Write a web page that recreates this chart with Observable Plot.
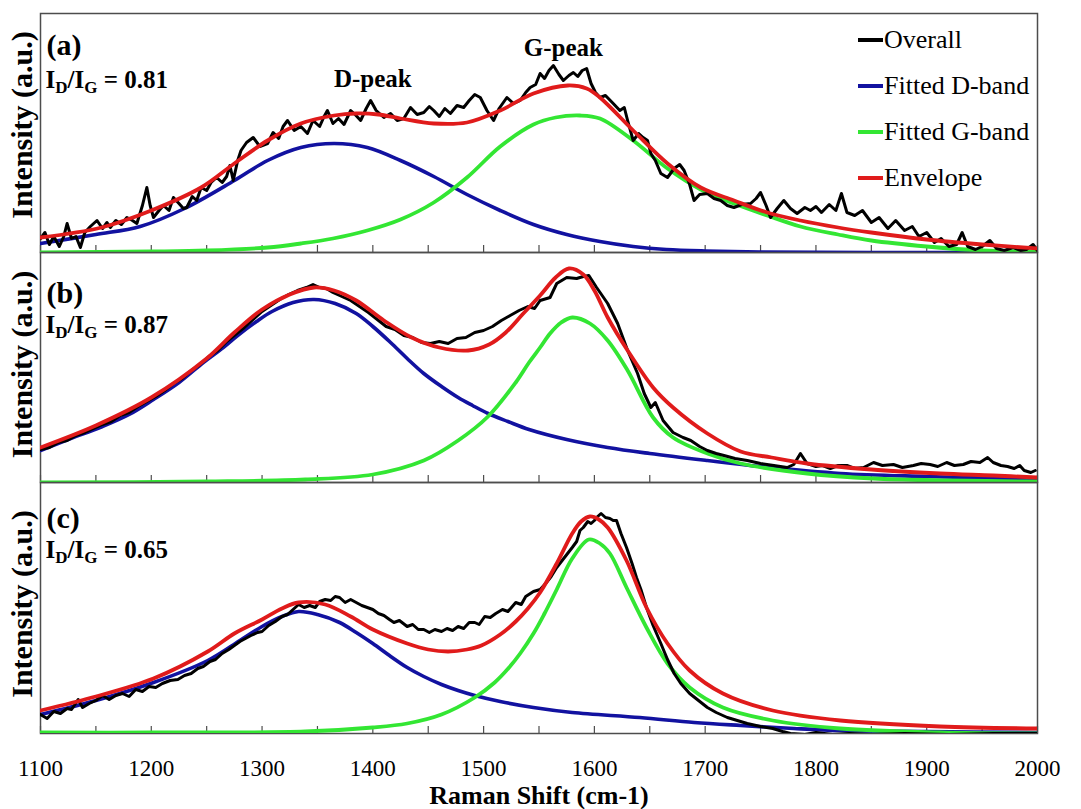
<!DOCTYPE html>
<html>
<head>
<meta charset="utf-8">
<script src="https://cdn.jsdelivr.net/npm/d3@7"></script>
<script src="https://cdn.jsdelivr.net/npm/@observablehq/plot@0.6"></script>
<style>
  body { margin: 0; background: #fff; }
  #chart { position: relative; width: 1081px; height: 809px; font-family: "Liberation Serif", "Times New Roman", serif; }
  #chart svg { display: block; overflow: visible; }
  .legend { position: absolute; left: 858px; top: 17px; }
  .legend .row { display: flex; align-items: center; height: 46px; font-size: 26px; color: #000; }
  .legend .swatch { width: 25px; height: 4px; margin-right: 1px; }
</style>
</head>
<body>
<div id="chart"></div>
<script>
// Raman spectra (1100–2000 cm-1) of three samples with two-band fits.
// Each series is a list of [Raman shift (cm-1), intensity (a.u.)] pairs.

const shiftTicks = [1100, 1150, 1200, 1250, 1300, 1350, 1400, 1450, 1500, 1550, 1600, 1650, 1700, 1750, 1800, 1850, 1900, 1950, 2000];
const shiftLabels = [1100, 1200, 1300, 1400, 1500, 1600, 1700, 1800, 1900, 2000];
const panelTags = ["(a)", "(b)", "(c)"];
const ratios = ["0.81", "0.87", "0.65"];
const seriesNames = ["Overall", "Fitted D-band", "Fitted G-band", "Envelope"];
const peakLabels = [
  {label: "D-peak", shift: 1400, intensity: 174},
  {label: "G-peak", shift: 1572, intensity: 205}
];

// ---- sample (a) ----
const overallA = [[1100,14],[1104,20],[1108,8],[1112,16],[1117,6],[1121,16],[1124,29],[1128,14],[1132,16],[1136,5],[1140,20],[1145,26],[1151,32],[1156,24],[1160,30],[1163,25],[1168,32],[1173,28],[1178,35],[1183,32],[1187,29],[1192,47],[1196,65],[1199,47],[1202,35],[1207,42],[1211,47],[1216,42],[1220,55],[1225,49],[1229,44],[1232,45],[1237,56],[1241,52],[1245,65],[1250,62],[1254,70],[1259,75],[1264,70],[1268,76],[1271,87],[1274,72],[1278,92],[1281,102],[1286,110],[1292,115],[1298,106],[1305,109],[1310,120],[1315,114],[1319,126],[1323,132],[1329,122],[1335,126],[1341,119],[1346,132],[1352,126],[1356,136],[1359,142],[1364,129],[1369,134],[1374,128],[1380,142],[1384,138],[1389,132],[1394,144],[1398,152],[1403,142],[1410,135],[1416,139],[1422,132],[1428,134],[1434,145],[1440,138],[1446,140],[1451,146],[1455,142],[1460,136],[1465,144],[1470,139],[1476,147],[1482,145],[1487,152],[1492,158],[1497,155],[1503,142],[1509,132],[1514,144],[1521,155],[1527,149],[1533,152],[1538,160],[1542,165],[1547,168],[1551,179],[1555,174],[1559,182],[1563,187],[1568,178],[1572,172],[1577,177],[1581,180],[1585,176],[1589,182],[1593,184],[1597,169],[1601,160],[1605,155],[1610,157],[1617,149],[1623,142],[1627,145],[1630,132],[1635,112],[1640,119],[1644,115],[1648,112],[1651,99],[1655,92],[1660,79],[1666,75],[1672,84],[1677,88],[1681,82],[1686,68],[1690,52],[1695,58],[1702,59],[1708,54],[1714,52],[1720,47],[1726,45],[1733,48],[1741,49],[1746,54],[1750,60],[1755,47],[1759,35],[1765,44],[1771,52],[1777,44],[1783,39],[1790,45],[1795,42],[1800,46],[1805,40],[1812,48],[1818,42],[1823,59],[1828,40],[1835,37],[1842,42],[1850,30],[1857,35],[1865,24],[1872,32],[1880,22],[1887,26],[1893,16],[1900,20],[1907,10],[1913,14],[1920,6],[1927,8],[1932,20],[1937,6],[1944,3],[1950,6],[1957,12],[1963,4],[1970,2],[1978,5],[1985,2],[1990,3],[1996,8],[2000,2]];
const dBandA = [[1100,9],[1150,18],[1190,26],[1230,44],[1275,72],[1305,92],[1335,105],[1365,109],[1395,105],[1425,92],[1455,76],[1485,58],[1515,42],[1545,28],[1575,18],[1605,11],[1635,6],[1665,3],[1700,1.5],[1750,0.5],[1850,0],[2000,0]];
const gBandA = [[1100,0],[1200,1],[1250,2],[1305,5],[1335,9],[1364,14],[1395,22],[1425,33],[1455,50],[1485,75],[1515,106],[1545,128],[1565,135],[1587,137],[1605,134],[1635,112],[1666,84],[1696,63],[1726,49],[1756,37],[1786,26],[1820,18],[1850,12],[1900,6],[1950,2],[2000,1]];
const envelopeA = [[1100,15],[1155,25],[1200,42],[1245,65],[1275,89],[1305,112],[1335,129],[1365,137],[1385,139],[1405,138],[1425,134],[1455,129],[1485,130],[1515,142],[1545,159],[1576,167],[1593,164],[1605,155],[1635,122],[1666,89],[1696,65],[1726,52],[1756,40],[1786,32],[1820,25],[1850,20],[1900,13],[1950,8],[2000,4]];

// ---- sample (b) ----
const overallB = [[1100,33],[1108,35],[1116,40],[1124,42],[1132,47],[1140,50],[1148,54],[1156,58],[1164,61],[1172,67],[1180,70],[1188,76],[1196,81],[1204,86],[1212,92],[1220,99],[1228,104],[1236,112],[1244,118],[1252,126],[1260,132],[1268,141],[1276,148],[1284,155],[1292,163],[1300,171],[1308,177],[1316,183],[1324,188],[1332,192],[1340,195],[1346,198],[1352,195],[1358,194],[1364,190],[1372,186],[1380,182],[1388,176],[1396,170],[1404,163],[1412,156],[1420,153],[1428,147],[1436,145],[1444,140],[1452,139],[1460,141],[1468,139],[1476,144],[1484,145],[1492,150],[1500,152],[1508,156],[1516,162],[1524,167],[1532,172],[1540,176],[1546,174],[1551,182],[1560,185],[1566,199],[1575,205],[1584,204],[1590,206],[1595,207],[1602,195],[1612,179],[1621,159],[1630,132],[1639,109],[1645,89],[1651,75],[1655,80],[1662,62],[1671,50],[1680,45],[1687,42],[1695,36],[1702,32],[1710,29],[1717,27],[1727,24],[1738,22],[1750,19],[1762,17],[1774,15],[1780,18],[1786,29],[1792,19],[1800,16],[1806,17],[1813,14],[1820,17],[1828,17],[1835,14],[1843,15],[1852,20],[1860,17],[1870,18],[1878,15],[1888,17],[1895,19],[1903,18],[1910,16],[1918,20],[1925,17],[1933,18],[1940,21],[1948,20],[1955,25],[1960,20],[1967,17],[1973,16],[1979,14],[1984,17],[1988,12],[1994,10],[1998,12]];
const dBandB = [[1100,32],[1125,43],[1156,56],[1180,68],[1202,83],[1225,100],[1247,120],[1265,135],[1278,147],[1295,161],[1309,171],[1328,180],[1347,183],[1366,179],[1385,169],[1400,156],[1416,140],[1431,124],[1446,109],[1462,96],[1477,85],[1490,77],[1504,69],[1522,61],[1541,53],[1575,43],[1612,35],[1650,29],[1702,22],[1750,16],[1822,9],[1900,6],[1973,4],[2000,3]];
const gBandB = [[1100,0],[1250,1],[1339,3],[1400,8],[1446,22],[1477,42],[1504,66],[1529,100],[1541,120],[1551,135],[1560,149],[1570,160],[1580,165],[1596,159],[1612,142],[1630,112],[1653,65],[1671,45],[1702,29],[1732,19],[1792,9],[1852,4],[1920,2],[2000,1]];
const envelopeB = [[1100,35],[1150,57],[1200,85],[1250,124],[1275,150],[1300,173],[1325,188],[1347,195],[1365,192],[1385,182],[1410,162],[1435,145],[1460,135],[1486,132],[1505,138],[1520,150],[1535,168],[1551,187],[1565,205],[1577,214],[1590,208],[1600,192],[1612,165],[1630,132],[1653,95],[1671,75],[1702,49],[1732,31],[1760,25],[1792,19],[1850,13],[1912,9],[1960,7],[2000,5]];

// ---- sample (c) ----
const overallC = [[1100,19],[1106,15],[1112,22],[1118,20],[1124,25],[1128,24],[1134,34],[1138,26],[1144,30],[1150,33],[1156,38],[1162,34],[1168,38],[1174,40],[1180,37],[1186,44],[1192,42],[1198,47],[1204,46],[1210,50],[1217,53],[1224,54],[1230,58],[1236,60],[1242,65],[1247,67],[1253,72],[1258,74],[1264,80],[1270,84],[1275,88],[1280,92],[1285,95],[1290,98],[1296,101],[1300,102],[1306,108],[1312,112],[1318,117],[1323,119],[1328,124],[1333,129],[1338,126],[1343,128],[1348,126],[1352,132],[1357,134],[1362,133],[1366,137],[1370,136],[1375,131],[1380,134],[1385,131],[1390,128],[1395,126],[1400,124],[1405,120],[1410,118],[1415,114],[1419,111],[1424,113],[1431,107],[1436,109],[1441,104],[1446,104],[1451,101],[1456,104],[1462,102],[1467,105],[1472,103],[1477,107],[1482,105],[1487,111],[1492,111],[1496,109],[1501,117],[1506,116],[1511,120],[1517,124],[1522,122],[1529,131],[1534,129],[1538,137],[1545,142],[1551,144],[1556,150],[1561,157],[1566,166],[1573,176],[1580,186],[1584,192],[1587,203],[1590,206],[1594,212],[1597,210],[1600,213],[1603,217],[1606,220],[1610,216],[1614,215],[1617,213],[1620,213],[1624,200],[1629,186],[1634,170],[1638,156],[1642,144],[1647,126],[1653,108],[1660,90],[1666,74],[1672,60],[1678,50],[1686,40],[1694,33],[1702,26],[1710,21],[1720,16],[1729,13],[1738,10],[1750,7],[1761,5],[1770,2],[1777,0],[1790,-1],[1800,1],[1815,-1],[1830,0],[1850,-1],[1880,0],[1920,-1],[1960,0],[2000,0]];
const dBandC = [[1100,19],[1150,33],[1202,51],[1251,73],[1280,93],[1300,107],[1318,117],[1333,122],[1350,119],[1370,111],[1385,101],[1400,90],[1415,78],[1431,66],[1446,57],[1462,49],[1477,43],[1492,38],[1515,32],[1545,26],[1580,21],[1641,16],[1690,11],[1732,8],[1780,5],[1822,3],[1900,2],[2000,1]];
const gBandC = [[1100,1],[1200,1],[1339,2],[1400,6],[1431,10],[1462,19],[1492,36],[1510,51],[1523,66],[1533,80],[1545,100],[1555,120],[1566,144],[1580,175],[1595,194],[1605,190],[1614,180],[1629,146],[1647,106],[1666,70],[1686,46],[1716,26],[1761,13],[1822,5],[1912,1],[2000,0]];
const envelopeC = [[1100,23],[1150,37],[1202,55],[1251,82],[1275,100],[1300,114],[1318,125],[1333,131],[1357,129],[1380,117],[1400,104],[1431,90],[1450,84],[1468,82],[1485,84],[1498,88],[1515,99],[1529,112],[1540,125],[1551,141],[1566,170],[1580,200],[1588,212],[1596,217],[1604,214],[1612,206],[1629,173],[1647,126],[1666,90],[1686,63],[1716,40],[1761,23],[1822,13],[1912,7],[2000,5]];

// ---- drawing ----
const serif = "Liberation Serif";
const colors = {overall: "#000000", d: "#1212a0", g: "#33e633", env: "#e01b1b"};
const legendColors = [colors.overall, colors.d, colors.g, colors.env];

const panels = [
  {tag: panelTags[0], ratio: ratios[0], overall: overallA, d: dBandA, g: gBandA, env: envelopeA,
   top: 13, inner: 239, bottom: 0, tagDy: 32, ratioDy: 66, labelDy: -8, peaks: peakLabels},
  {tag: panelTags[1], ratio: ratios[1], overall: overallB, d: dBandB, g: gBandB, env: envelopeB,
   top: 0, inner: 230, bottom: 0, tagDy: 41, ratioDy: 72, labelDy: -3, peaks: []},
  {tag: panelTags[2], ratio: ratios[2], overall: overallC, d: dBandC, g: gBandC, env: envelopeC,
   top: 0, inner: 251, bottom: 76, tagDy: 36, ratioDy: 67, labelDy: -4, peaks: [], axis: true}
];

const px = d => d[0], py = d => d[1];
const chart = document.getElementById("chart");

// turn "ID/IG = x" into I with subscript D over I with subscript G
function subscriptRatio(svg) {
  const ns = "http://www.w3.org/2000/svg";
  svg.querySelectorAll("text").forEach(t => {
    const m = t.textContent.match(/^ID\/IG(.*)$/);
    if (!m) return;
    t.textContent = "";
    const parts = [["I", 0], ["D", 1], ["/I", -1], ["G", 1], [m[1], -1]];
    for (const [s, k] of parts) {
      const ts = document.createElementNS(ns, "tspan");
      ts.textContent = s;
      if (k === 1) { ts.setAttribute("font-size", "68%"); ts.setAttribute("dy", "5"); }
      if (k === -1) { ts.setAttribute("dy", "-5"); }
      t.appendChild(ts);
    }
  });
}

for (const p of panels) {
  const marks = [
    Plot.frame({stroke: "#4d4d4d", strokeWidth: 1.5}),
    Plot.ruleX(shiftTicks, {x: d => d, insetTop: p.inner - 7, stroke: "#4d4d4d", strokeWidth: 1.2}),
    Plot.line(p.d, {x: px, y: py, stroke: colors.d, strokeWidth: 3.6, curve: "catmull-rom", clip: true}),
    Plot.line(p.g, {x: px, y: py, stroke: colors.g, strokeWidth: 3.8, curve: "catmull-rom", clip: true}),
    Plot.line(p.overall, {x: px, y: py, stroke: colors.overall, strokeWidth: 3, strokeLinejoin: "round", clip: true}),
    Plot.line(p.env, {x: px, y: py, stroke: colors.env, strokeWidth: 3.8, curve: "catmull-rom", clip: true}),
    Plot.text([p.tag], {text: d => d, frameAnchor: "top-left", dx: 6, dy: p.tagDy, textAnchor: "start", lineAnchor: "middle", fontSize: 30, fontWeight: "bold", fontFamily: serif}),
    Plot.text(["ID/IG = " + p.ratio], {text: d => d, frameAnchor: "top-left", dx: 5, dy: p.ratioDy, textAnchor: "start", lineAnchor: "middle", fontSize: 25, fontWeight: "bold", fontFamily: serif}),
    Plot.text(["Intensity (a.u.)"], {text: d => d, frameAnchor: "left", textAnchor: "middle", rotate: -90, dx: -18, dy: p.labelDy, fontSize: 30, fontWeight: "bold", fontFamily: serif}),
    Plot.text(p.peaks, {x: "shift", y: "intensity", text: "label", fontSize: 25, fontWeight: "bold", fontFamily: serif})
  ];
  if (p.axis) {
    marks.push(
      Plot.text(shiftLabels, {x: d => d, text: d => String(d), frameAnchor: "bottom", dy: 35, lineAnchor: "middle", fontSize: 23, fontFamily: serif}),
      Plot.text(["Raman Shift (cm-1)"], {text: d => d, frameAnchor: "bottom", dy: 62.5, lineAnchor: "middle", fontSize: 26, fontWeight: "bold", fontFamily: serif, letterSpacing: "1px"})
    );
  }
  const svg = Plot.plot({
    width: 1081,
    height: p.top + p.inner + p.bottom,
    marginLeft: 40,
    marginRight: 44,
    marginTop: p.top,
    marginBottom: p.bottom,
    style: {fontFamily: serif, color: "#000", overflow: "visible"},
    x: {domain: [1100, 2000], axis: null},
    y: {domain: [0, p.inner], axis: null},
    marks
  });
  subscriptRatio(svg);
  chart.appendChild(svg);
}

// legend inside panel (a)
const legend = d3.select(chart).append("div").attr("class", "legend");
seriesNames.forEach((name, i) => {
  const row = legend.append("div").attr("class", "row");
  row.append("span").attr("class", "swatch").style("background", legendColors[i]);
  row.append("span").text(name);
});
</script>
</body>
</html>
